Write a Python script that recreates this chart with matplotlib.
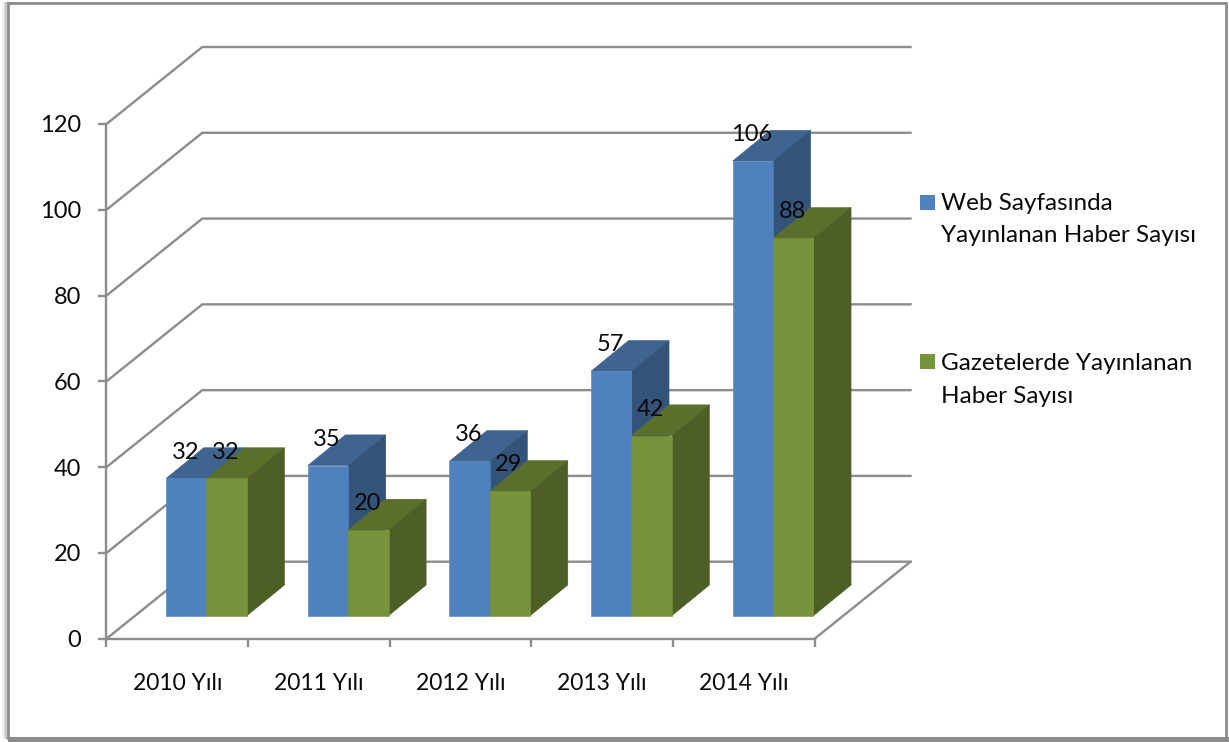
import matplotlib
matplotlib.use("Agg")
import matplotlib.pyplot as plt
from matplotlib.patches import Rectangle

plt.rcParams['font.family'] = ['Lato', 'DejaVu Sans']

years = ["2010 Yılı", "2011 Yılı", "2012 Yılı", "2013 Yılı", "2014 Yılı"]
web = [32, 35, 36, 57, 106]
gazete = [32, 20, 29, 42, 88]
yticks = [0, 20, 40, 60, 80, 100, 120]

W, H = 1229, 742
GRAY = "#8c8c8c"
TXT = "#0a0a0a"
FS = 17

# pixels per unit on the front plane
x0, x1, ytop, ybot = 106.5, 814.7, 124.0, 638.7
sx = (x1 - x0) / 5
sy = (ybot - ytop) / 120

# depth of the 3d box and of the bars, in data units
wall_dx, wall_dy = 95.8 / sx, 77 / sy
bar_dx, bar_dy = 37.6 / sx, 30.7 / sy
bar_x0 = 59.6 / sx
bar_w = 40.4 / sx
bar_y0 = 23 / sy


def fx(px):
    return px / W


def fy(py):
    return 1 - py / H


def bar3d(ax, x, val, front, top, side):
    y0, y1 = bar_y0, bar_y0 + val
    x2 = x + bar_w
    kw = dict(clip_on=False, zorder=3, lw=0.4)
    ax.fill([x, x + bar_dx, x2 + bar_dx, x2], [y1, y1 + bar_dy, y1 + bar_dy, y1], color=top, **kw)
    ax.fill([x2, x2 + bar_dx, x2 + bar_dx, x2], [y0, y0 + bar_dy, y1 + bar_dy, y1], color=side, **kw)
    ax.fill([x, x2, x2, x], [y0, y0, y1, y1], color=front, **kw)


fig = plt.figure(figsize=(W / 100, H / 100), dpi=100)

# frame with its shadow
for off, col in [(5, "#f0f0f0"), (3.5, "#dcdcdc"), (2.5, "#bdbdbd")]:
    fig.add_artist(Rectangle((fx(8 - off), fy(738)), fx(1218 + off), 735 / H,
                             fc="none", ec=col, lw=1.2, zorder=-3))
fig.add_artist(Rectangle((fx(8), fy(738)), fx(1218), 735 / H, fc="white", ec=GRAY, lw=2, zorder=-2))
fig.add_artist(Rectangle((fx(8), 0), fx(1221), 5 / H, fc=GRAY, ec="none", zorder=-1))

ax = fig.add_axes([fx(x0), fy(ybot), fx(x1 - x0), (ybot - ytop) / H])
ax.patch.set_visible(False)
ax.set_xlim(0, 5)
ax.set_ylim(0, 120)

for s in ["top", "right"]:
    ax.spines[s].set_visible(False)
for s in ["left", "bottom"]:
    ax.spines[s].set_color(GRAY)
    ax.spines[s].set_linewidth(1.7)

# walls and floor
for v in yticks:
    ax.plot([0, wall_dx, 5 + wall_dx], [v, v + wall_dy, v + wall_dy],
            color=GRAY, lw=1.7, clip_on=False, zorder=1, solid_joinstyle="miter")
ax.plot([5, 5 + wall_dx], [0, wall_dy], color=GRAY, lw=1.7, clip_on=False, zorder=1)

ax.set_yticks(yticks)
ax.set_xticks(range(6))
ax.set_xticklabels([])
ax.set_xticks([i + 0.5 for i in range(5)], minor=True)
ax.set_xticklabels(years, minor=True, fontsize=FS - 0.5, color=TXT)
ax.tick_params(axis="x", which="minor", length=0, pad=24.5)
ax.tick_params(axis="x", which="major", length=6, width=1.7, color=GRAY)
ax.tick_params(axis="y", length=6, width=1.7, color=GRAY, pad=12, labelsize=FS, labelcolor=TXT)

for i in range(5):
    bar3d(ax, i + bar_x0, web[i], "#4f81bd", "#3e648f", "#335379")
    bar3d(ax, i + bar_x0 + bar_w, gazete[i], "#77933c", "#5b6f2d", "#4d5f26")

for i in range(5):
    for k, val in enumerate([web[i], gazete[i]]):
        ax.annotate(str(val), (i + bar_x0 + (k + 0.5) * bar_w, bar_y0 + val),
                    xytext=(-0.7, 19), textcoords="offset points", ha="center", va="center",
                    fontsize=FS, color=TXT, zorder=5, annotation_clip=False)

# legend
for py, col in [(202.5, "#4f81bd"), (361.5, "#77933c")]:
    fig.add_artist(Rectangle((fx(920), fy(py + 7.5)), fx(15), 15 / H, fc=col, ec="none"))
legend_lines = [(941, 203, "Web Sayfasında"), (941, 236, "Yayınlanan Haber Sayısı"),
                (941, 363, "Gazetelerde Yayınlanan"), (941, 397, "Haber Sayısı")]
for px, py, s in legend_lines:
    fig.text(fx(px), fy(py), s, fontsize=FS + 0.5, color=TXT, va="center", ha="left")

fig.savefig("out.png", dpi=100)
